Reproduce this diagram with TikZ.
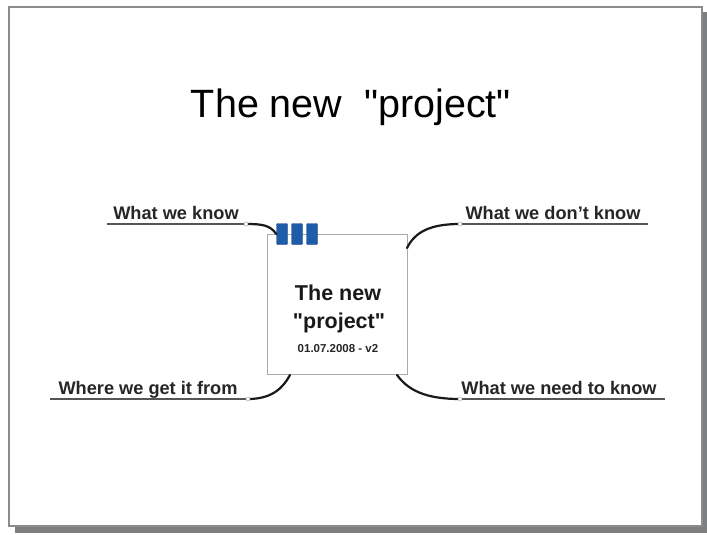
\documentclass[tikz,border=0pt]{standalone}
\usepackage{fontspec}
\setmainfont{Liberation Sans}[Ligatures=TeXOff]
\definecolor{framegray}{HTML}{8A8C8E}
\definecolor{shadowgray}{HTML}{7C7E80}
\definecolor{boxgray}{HTML}{A8AAAC}
\definecolor{barblue}{HTML}{1D5CA8}
\definecolor{linegray}{HTML}{555555}
\begin{document}
\begin{tikzpicture}[x=1pt,y=-1pt,
  branchlabel/.style={font=\fontsize{18.2}{20}\selectfont\bfseries, text=black!85, inner sep=0pt, anchor=base},
  underline/.style={draw=linegray, line width=2.2pt},
  stem/.style={draw=black!90, line width=2.2pt, line cap=round},
  knot/.style={circle, fill=white, draw=gray!60, line width=0.5pt, inner sep=0pt, minimum size=4pt},
  bar/.style={fill=barblue, draw=barblue!80!black, line width=0.4pt, rounded corners=1pt, minimum width=11pt, minimum height=21pt, inner sep=0pt}
]
\useasboundingbox (0,0) rectangle (707,535);
% slide with shadow
\fill[shadowgray] (15,12) rectangle (707,533);
\draw[framegray, line width=2.5pt, fill=white] (9,7) rectangle (702,526);

% title
\node[font=\fontsize{39.5}{44}\selectfont, inner sep=0pt] (title) at (351,107) {The new\ \ "project"};

% central box
\node[draw=boxgray, fill=white, line width=0.9pt, minimum width=140pt, minimum height=140pt, inner sep=0pt] (box) at (337,304) {};
\node[font=\fontsize{21.5}{24}\selectfont\bfseries, inner sep=0pt, anchor=base, text=black!90] (t1) at (338,300) {The new};
\node[font=\fontsize{21.5}{24}\selectfont\bfseries, inner sep=0pt, anchor=base, text=black!90] (t2) at (339,328) {"project"};
\node[font=\fontsize{11.5}{13}\selectfont\bfseries, inner sep=0pt, anchor=base, text=black!85] (t3) at (338,352) {01.07.2008 - v2};

% blue bars
\node[bar] (b1) at (282,234) {};
\node[bar] (b2) at (297,234) {};
\node[bar] (b3) at (312,234) {};

% junction coordinates
\coordinate (jk) at (246,224);
\coordinate (jd) at (460,224);
\coordinate (jw) at (248,399);
\coordinate (jn) at (460,399);
\coordinate (ek) at (107,224);
\coordinate (ed) at (648,224);
\coordinate (ew) at (50,399);
\coordinate (en) at (665,399);
\coordinate (sd) at (407,248);
\coordinate (sw) at (290,375);
\coordinate (sn) at (397,375);

% labels
\node[branchlabel] (lk) at (176,219) {What we know};
\node[branchlabel] (ld) at (553,219) {What we don’t know};
\node[branchlabel] (lw) at (148,394) {Where we get it from};
\node[branchlabel] (ln) at (559,394) {What we need to know};

% underlines
\draw[underline] (ek) -- (jk);
\draw[underline] (jd) -- (ed);
\draw[underline] (ew) -- (jw);
\draw[underline] (jn) -- (en);

% stems
\draw[stem] (jk) .. controls (262,224) and (270,225) .. (b1.west);
\draw[stem] (jd) .. controls (430,224) and (415,232) .. (sd);
\draw[stem] (jw) .. controls (272,399) and (283,388) .. (sw);
\draw[stem] (jn) .. controls (425,399) and (408,390) .. (sn);

% knots
\node[knot] (kk) at (jk) {};
\node[knot] (kd) at (jd) {};
\node[knot] (kw) at (jw) {};
\node[knot] (kn) at (jn) {};
\end{tikzpicture}
\end{document}
